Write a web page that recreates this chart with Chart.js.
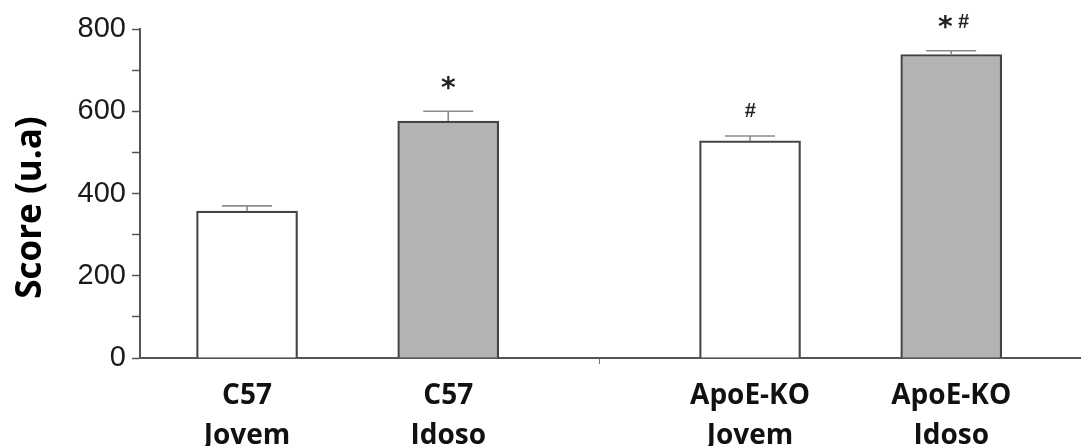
<!DOCTYPE html>
<html>
<head>
<meta charset="utf-8">
<script src="https://cdn.jsdelivr.net/npm/chart.js@4"></script>
<style>
  html, body { margin: 0; padding: 0; background: #ffffff; overflow: hidden; }
  #wrap { width: 1081px; height: 446px; overflow: hidden; }
</style>
</head>
<body>
<div id="wrap"><canvas id="c" width="1081" height="470"></canvas></div>
<script>
// ---- data ----
const categories = [['C57', 'Jovem'], ['C57', 'Idoso'], ['ApoE-KO', 'Jovem'], ['ApoE-KO', 'Idoso']];
const xPositions = [1, 3, 6, 8];
const scores = [357, 576, 528, 738];
const sem = [13, 24, 12, 9];
const marks = ['', '*', '#', '*#'];
const barColors = ['#ffffff', '#b3b3b3', '#ffffff', '#b3b3b3'];
const yTickLabels = [0, 200, 400, 600, 800];
const groupDivider = 4.5;
const yTitle = 'Score (u.a)';

const errorBarsPlugin = {
  id: 'errorBars',
  afterDatasetsDraw(chart) {
    const ctx = chart.ctx;
    const xs = chart.scales.x, ys = chart.scales.y;
    ctx.save();
    ctx.strokeStyle = '#8a8a8a';
    ctx.lineWidth = 1.6;
    for (let i = 0; i < scores.length; i++) {
      const px = xs.getPixelForValue(xPositions[i]);
      const top = ys.getPixelForValue(scores[i]);
      const cap = ys.getPixelForValue(scores[i] + sem[i]);
      ctx.beginPath();
      ctx.moveTo(px, top);
      ctx.lineTo(px, cap);
      ctx.moveTo(px - 25, cap);
      ctx.lineTo(px + 25, cap);
      ctx.stroke();
      // significance marks
      const m = marks[i];
      if (!m) continue;
      ctx.fillStyle = '#222';
      ctx.textAlign = 'center';
      ctx.textBaseline = 'middle';
      const my = cap - 26;
      if (m === '*') {
        ctx.font = 'bold 28px "DejaVu Sans"';
        ctx.fillText('*', px, my + 4);
      } else if (m === '#') {
        ctx.font = 'italic bold 20px "Liberation Sans"';
        ctx.fillText('#', px, my + 2);
      } else {
        ctx.font = 'bold 28px "DejaVu Sans"';
        ctx.fillText('*', px - 6, my + 4);
        ctx.font = 'italic bold 20px "Liberation Sans"';
        ctx.fillText('#', px + 12, my - 2);
      }
    }
    ctx.restore();
  }
};

const yTitlePlugin = {
  id: 'yTitle',
  afterDraw(chart) {
    const ctx = chart.ctx;
    const a = chart.chartArea;
    ctx.save();
    ctx.translate(31, (a.top + a.bottom) / 2 + 14);
    ctx.rotate(-Math.PI / 2);
    ctx.fillStyle = '#000000';
    ctx.font = 'bold 35px "Open Sans"';
    ctx.textAlign = 'center';
    ctx.textBaseline = 'middle';
    ctx.fillText(yTitle, 0, 0);
    ctx.restore();
  }
};

new Chart(document.getElementById('c'), {
  type: 'bar',
  data: {
    datasets: [{
      data: xPositions.map((x, i) => ({ x: x, y: scores[i] })),
      backgroundColor: barColors,
      borderColor: '#444444',
      borderWidth: 2.2,
      borderSkipped: 'start',
      barThickness: 101
    }]
  },
  plugins: [errorBarsPlugin, yTitlePlugin],
  options: {
    responsive: false,
    animation: false,
    layout: { padding: { top: 29, right: 0, left: 0, bottom: 0 } },
    plugins: { legend: { display: false }, tooltip: { enabled: false } },
    scales: {
      x: {
        type: 'linear',
        offset: false,
        min: -0.064,
        max: 9.29,
        afterFit(scale) { scale.height = 470 - 358; },
        afterBuildTicks(scale) {
          scale.ticks = xPositions.concat([groupDivider]).map(v => ({ value: v }));
        },
        border: { display: true, color: '#555555', width: 2 },
        grid: {
          offset: false,
          drawOnChartArea: false,
          drawTicks: true,
          tickLength: 6,
          tickColor: (c) => (c.tick && c.tick.value === groupDivider) ? '#777777' : 'rgba(0,0,0,0)'
        },
        ticks: {
          autoSkip: false,
          maxRotation: 0,
          padding: 12,
          color: '#111111',
          font: { family: '"Open Sans"', size: 28, weight: 'bold', lineHeight: 1.42 },
          callback: (v) => {
            const i = xPositions.indexOf(v);
            return i >= 0 ? categories[i] : '';
          }
        }
      },
      y: {
        min: 0,
        max: 800,
        afterFit(scale) { scale.width = 140; },
        border: { display: true, color: '#555555', width: 2 },
        grid: { drawOnChartArea: false, drawTicks: true, tickLength: 8, tickColor: '#555555', tickWidth: 1.5 },
        ticks: {
          stepSize: 100,
          padding: 6,
          color: '#1a1a1a',
          font: { family: '"Liberation Sans"', size: 29 },
          callback: (v) => yTickLabels.includes(v) ? String(v) : ''
        },
        title: { display: false }
      }
    }
  }
});
</script>
</body>
</html>
